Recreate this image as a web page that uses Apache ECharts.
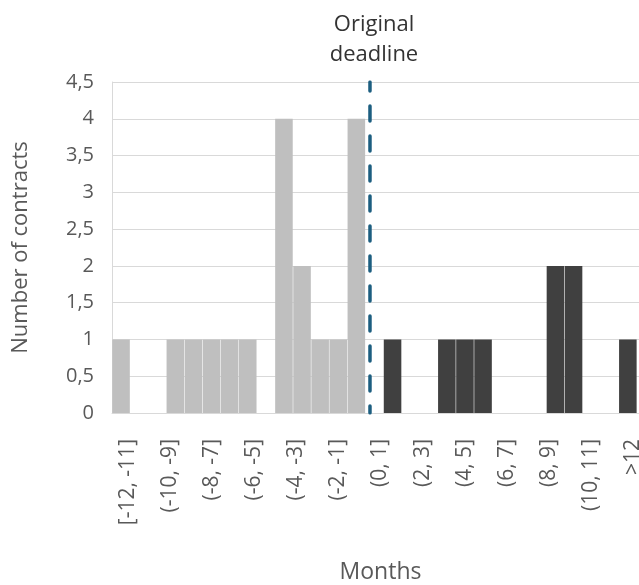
<!DOCTYPE html>
<html>
<head>
<meta charset="utf-8">
<script src="https://cdn.jsdelivr.net/npm/echarts@6/dist/echarts.min.js"></script>
<style>
  html, body { margin: 0; padding: 0; background: #ffffff; }
  #chart { width: 639px; height: 585px; }
</style>
</head>
<body>
<div id="chart"></div>
<script>
// Bar slots along the horizontal axis (one column each)
const barSlots = Array.from({ length: 30 }, (_, i) => String(i + 1));

// Contracts finished before the original deadline (grey columns)
const earlyContracts = [1, 0, 0, 1, 1, 1, 1, 1, 0, 4, 2, 1, 1, 4, 0, null, null, null, null, null, null, null, null, null, null, null, null, null, null, null];
// Contracts finished after the original deadline (dark columns)
const lateContracts = [null, null, null, null, null, null, null, null, null, null, null, null, null, null, null, 1, 0, 0, 1, 1, 1, 0, 0, 0, 2, 2, 0, 0, 1, 0];

// Month bins printed under the axis
const monthLabels = ['[-12, -11]', '(-10, -9]', '(-8, -7]', '(-6, -5]', '(-4, -3]', '(-2, -1]',
  '(0, 1]', '(2, 3]', '(4, 5]', '(6, 7]', '(8, 9]', '(10, 11]', '>12'];

// Y axis ticks
const yMin = 0, yMax = 4.5, yStep = 0.5;

// Position of the original deadline, in months
const deadlineMonth = 0;
const monthRange = [-12.5, 13.5];

const textColor = '#595959';
const font = 'Open Sans';

const chart = echarts.init(document.getElementById('chart'), null, { renderer: 'canvas' });

chart.setOption({
  animation: false,
  backgroundColor: '#ffffff',
  title: {
    text: 'Original\ndeadline',
    left: 369,
    top: 5,
    textAlign: 'center',
    textStyle: { fontFamily: font, fontSize: 22, fontWeight: 500, color: '#333333', lineHeight: 30 }
  },
  grid: [
    { left: 112, width: 543, top: 82, height: 331, outerBoundsMode: 'none', containLabel: false },
    { left: 107, width: 547, top: 82, height: 331, outerBoundsMode: 'none', containLabel: false }
  ],
  xAxis: [
    {
      type: 'category', gridIndex: 0, data: barSlots,
      axisLine: { show: true, lineStyle: { color: '#d9d9d9', width: 1 } },
      axisTick: { show: false }, axisLabel: { show: false }
    },
    {
      type: 'category', gridIndex: 1, data: monthLabels,
      name: 'Months', nameLocation: 'middle', nameGap: 148,
      nameTextStyle: { fontFamily: font, fontSize: 23, color: textColor },
      axisLine: { show: false }, axisTick: { show: false },
      axisLabel: { rotate: 90, margin: 26, fontFamily: font, fontSize: 21, color: textColor, interval: 0 }
    },
    {
      type: 'value', gridIndex: 1, min: monthRange[0], max: monthRange[1],
      show: false
    }
  ],
  yAxis: [
    {
      type: 'value', gridIndex: 0, min: yMin, max: yMax, interval: yStep,
      name: 'Number of contracts', nameLocation: 'middle', nameGap: 80,
      nameTextStyle: { fontFamily: font, fontSize: 22, color: textColor },
      axisLine: { show: true, lineStyle: { color: '#d9d9d9', width: 1 } },
      axisTick: { show: false },
      splitLine: { show: true, lineStyle: { color: '#d9d9d9', width: 1 } },
      axisLabel: {
        margin: 18, fontFamily: font, fontSize: 20, color: textColor,
        formatter: v => String(v).replace('.', ',')
      }
    },
    { type: 'value', gridIndex: 1, min: yMin, max: yMax, show: false }
  ],
  series: [
    {
      name: 'Before deadline', type: 'bar', xAxisIndex: 0, yAxisIndex: 0,
      data: earlyContracts, barWidth: '97%', barGap: '-100%',
      itemStyle: { color: '#bfbfbf' }, silent: true
    },
    {
      name: 'After deadline', type: 'bar', xAxisIndex: 0, yAxisIndex: 0,
      data: lateContracts, barWidth: '97%', barGap: '-100%',
      itemStyle: { color: '#404040' }, silent: true
    },
    {
      name: 'Original deadline', type: 'line', xAxisIndex: 2, yAxisIndex: 1,
      data: [[deadlineMonth, yMin], [deadlineMonth, yMax]],
      symbol: 'none', silent: true, z: 5,
      lineStyle: { color: '#1c5e80', width: 3.5, type: [15, 15], cap: 'round', dashOffset: 8 }
    }
  ]
});
</script>
</body>
</html>
